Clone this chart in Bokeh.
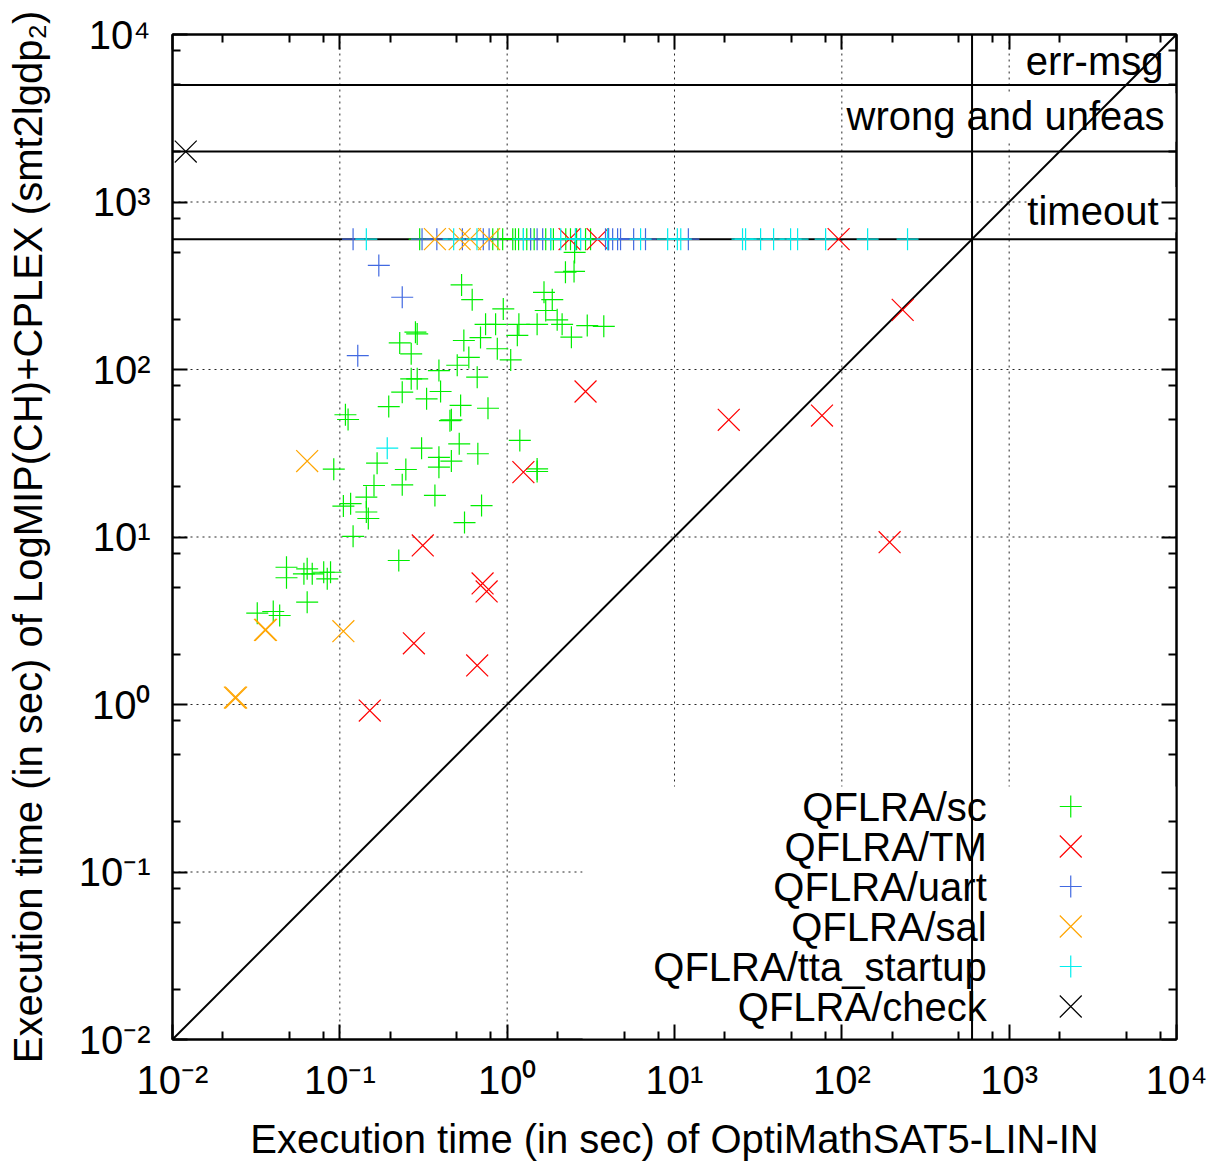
import math
from bokeh.plotting import figure
from bokeh.models import FixedTicker, LogAxis, Label, CustomJSTickFormatter
from bokeh.embed import file_html
from bokeh.resources import INLINE
from bokeh.core.properties import value

FONT = "Liberation Sans"

# ---------------- data (seconds) ----------------
TIMEOUT = 600      # "timeout" row
WRONG = 2000       # "wrong and unfeas" row
ERRMSG = 5000      # "err-msg" row

# QFLRA/sc (green +)
sc_x = [2.51, 2.23, 1.66, 1.86, 0.534, 0.618, 0.948, 1.70, 1.99, 2.13, 2.42, 3.01, 3.78,
        1.51, 1.175, 1.15, 0.853, 0.743, 0.693, 0.551, 0.873, 1.05, 0.283, 0.290, 0.228,
        0.267, 0.503, 0.590, 0.391, 0.662, 0.267, 0.290, 0.236, 0.400, 0.330, 0.196,
        0.527, 0.768, 0.108, 0.112, 0.464, 0.455, 1.19, 0.517, 0.308, 0.668, 0.391,
        0.464, 0.391, 0.092, 0.167, 0.248, 1.51, 1.51, 0.160, 0.236, 0.370, 0.144,
        0.116, 0.105, 0.144, 0.148, 0.703, 0.556, 0.120, 0.225, 0.048, 0.048, 0.0638,
        0.061, 0.0684, 0.0801, 0.0841, 0.088, 0.0638, 0.0321, 0.040, 0.0437, 2.53]
sc_y = [385, 381, 289, 261, 320, 261, 230, 225, 198, 186, 156, 183, 181,
        186, 186, 160, 186, 186, 155, 149, 133, 114, 167, 163, 144,
        124, 106, 118, 98.6, 90, 88, 88, 73.2, 73.9, 66.8, 60.1,
        61, 58.7, 53.7, 50.3, 50.1, 49.5, 37.7, 36, 33.9, 31.4, 29.9,
        28.4, 26.1, 25.4, 27.6, 25.3, 25.5, 24.6, 20.3, 20.5, 17.7, 17.3,
        15.8, 15.3, 14.1, 12.9, 15.4, 12.2, 10.1, 7.24, 6.60, 5.71, 6.46,
        6.03, 6.03, 6.16, 5.63, 6.16, 4.08, 3.51, 3.59, 3.40, 500]
sc_timeout_x = [0.30, 0.82, 0.88, 0.94, 1.08, 1.12, 1.17, 1.25, 1.31, 1.38, 1.45,
                1.70, 1.82, 1.89, 2.24, 2.39, 2.60, 2.94, 3.15]

# QFLRA/TM (red x)
tm_x = [231, 2.94, 21.1, 76.1, 193, 1.25, 0.313, 0.713, 0.754, 0.277, 0.662, 0.151]
tm_y = [227, 73.9, 50.1, 53.1, 9.31, 24.4, 8.90, 5.28, 4.73, 2.32, 1.71, 0.92]
tm_timeout_x = [2.36, 3.47, 95.7]

# QFLRA/uart (royal blue +)
uart_x = [0.171, 0.236, 0.128]
uart_y = [418, 270, 121]
uart_timeout_x = [0.12, 0.31, 0.38, 0.54, 0.72, 0.78, 1.38, 1.51, 1.63, 2.56, 3.87,
                  4.04, 4.27, 4.57, 4.76, 5.70, 6.71, 12.1]

# QFLRA/sal (orange x)
sal_x = [0.0638, 0.0357, 0.0362, 0.105, 0.0236, 0.0240]
sal_y = [28.4, 2.79, 2.79, 2.74, 1.10, 1.10]
sal_timeout_x = [0.37, 0.52, 0.60, 0.78]

# QFLRA/tta_startup (cyan +)
tta_x = [0.192]
tta_y = [33.9]
tta_timeout_x = [0.144, 0.479, 0.66, 1.25, 1.82, 2.09, 2.56, 2.75, 3.98, 6.27, 9.10,
                 10.4, 10.9, 25.5, 26.6, 32.7, 39.1, 49.4, 54.4, 80.0, 142.6, 247]

# QFLRA/check (black x)
check_x = [0.012]
check_y = [2000]

series_names = ["QFLRA/sc", "QFLRA/TM", "QFLRA/uart", "QFLRA/sal",
                "QFLRA/tta_startup", "QFLRA/check"]
series_colors = ["#00ee00", "#ff0000", "#4169e1", "#ffa500", "#00eeee", "#000000"]
series_markers = ["cross", "x", "cross", "x", "cross", "x"]
series_sizes = [22, 31, 22, 31, 22, 31]

decades = [0.01, 0.1, 1, 10, 100, 1000, 10000]
tick_labels = ["10\u207b\u00b2", "10\u207b\u00b9", "10\u2070", "10\u00b9",
               "10\u00b2", "10\u00b3", "10\u2074"]
minor_ticks = [m * d for d in decades[:-1] for m in (2, 5, 8)]

x_title = "Execution time (in sec) of OptiMathSAT5-LIN-IN"
y_title = "Execution time (in sec) of LogMIP(CH)+CPLEX (smt2lgdp\u2082)"

# ---------------- figure ----------------
p = figure(width=1215, height=1164, x_axis_type="log", y_axis_type="log",
           x_range=(1e-2, 1e4), y_range=(1e-2, 1e4),
           output_backend="svg", toolbar_location=None,
           min_border_left=172, min_border_right=39,
           min_border_top=34, min_border_bottom=125)
p.grid.visible = False
p.outline_line_color = "black"
p.outline_line_width = 2
p.background_fill_color = "white"
p.border_fill_color = "white"

label_formatter = CustomJSTickFormatter(
    args=dict(labels=tick_labels, decades=decades),
    code="""
const i = decades.findIndex(d => Math.abs(Math.log10(d) - Math.log10(tick)) < 1e-6);
return i >= 0 ? labels[i] : '';
""")
blank_formatter = CustomJSTickFormatter(code="return '';")


def style_axis(ax, labelled):
    ax.ticker = FixedTicker(ticks=decades, minor_ticks=minor_ticks)
    ax.major_tick_in = 15
    ax.major_tick_out = 0
    ax.minor_tick_in = 8
    ax.minor_tick_out = 0
    ax.axis_line_width = 2
    ax.major_tick_line_width = 2
    ax.minor_tick_line_width = 2
    ax.axis_line_color = "black"
    ax.major_tick_line_color = "black"
    ax.minor_tick_line_color = "black"
    if labelled:
        ax.formatter = label_formatter
        ax.major_label_text_font = FONT
        ax.major_label_text_font_size = "40px"
        ax.major_label_text_color = "black"
        ax.axis_label_text_font = FONT
        ax.axis_label_text_font_size = "40px"
        ax.axis_label_text_font_style = "normal"
        ax.axis_label_text_color = "black"
    else:
        ax.formatter = blank_formatter
        ax.major_label_text_font_size = "1px"
        ax.major_label_standoff = 0


xa = p.xaxis[0]
ya = p.yaxis[0]
style_axis(xa, True)
style_axis(ya, True)
xa.axis_label = x_title
ya.axis_label = y_title
xa.major_label_standoff = 18
xa.axis_label_standoff = 12
ya.major_label_standoff = 22
ya.axis_label_standoff = 26

top_axis = LogAxis()
right_axis = LogAxis()
style_axis(top_axis, False)
style_axis(right_axis, False)
p.add_layout(top_axis, "above")
p.add_layout(right_axis, "right")

# dotted grid
gv = decades[1:-1]
lo, hi = decades[0], decades[-1]
p.segment(x0=gv, y0=[lo] * len(gv), x1=gv, y1=[hi] * len(gv),
          line_color="black", line_width=1, line_dash="2 4", line_alpha=0.85)
p.segment(x0=[lo] * len(gv), y0=gv, x1=[hi] * len(gv), y1=gv,
          line_color="black", line_width=1, line_dash="2 4", line_alpha=0.85)

# opaque boxes of key and labels (hide grid like gnuplot)
p.quad(left=[10 ** 0.451, 10 ** 2.04, 10 ** 3.12],
       right=[hi, hi, hi],
       bottom=[lo, 10 ** 3.36, 10 ** 2.82],
       top=[10 ** -0.49, 10 ** 3.65, 10 ** 3.09],
       fill_color="white", line_color=None)

# reference lines
p.line(x=[lo, hi], y=[lo, hi], line_color="black", line_width=2)
for yv in (TIMEOUT, WRONG, ERRMSG):
    p.line(x=[lo, hi], y=[yv, yv], line_color="black", line_width=2)
p.line(x=[TIMEOUT, TIMEOUT], y=[lo, hi], line_color="black", line_width=2)

# data points
all_series = [
    (sc_x + sc_timeout_x, sc_y + [TIMEOUT] * len(sc_timeout_x)),
    (tm_x + tm_timeout_x, tm_y + [TIMEOUT] * len(tm_timeout_x)),
    (uart_x + uart_timeout_x, uart_y + [TIMEOUT] * len(uart_timeout_x)),
    (sal_x + sal_timeout_x, sal_y + [TIMEOUT] * len(sal_timeout_x)),
    (tta_x + tta_timeout_x, tta_y + [TIMEOUT] * len(tta_timeout_x)),
    (check_x, check_y),
]
for (xs, ys), col, mk, sz in zip(all_series, series_colors, series_markers, series_sizes):
    p.scatter(x=xs, y=ys, marker=mk, size=sz, line_color=col, line_width=1.2,
              fill_color=None)

# key (gnuplot style: right-aligned text, sample to the right)
KEY_TEXT_X = 10 ** 2.866
KEY_MARK_X = 10 ** 3.368
KEY_ROW0 = -0.609
KEY_STEP = 0.2388
key_y = [10 ** (KEY_ROW0 - KEY_STEP * i) for i in range(len(series_names))]
p.text(x=[KEY_TEXT_X] * len(series_names), y=key_y, text=series_names,
       text_align="right", text_baseline="middle",
       text_font=value(FONT), text_font_size="40px", text_color="black")
p.scatter(x=[KEY_MARK_X] * len(series_names), y=key_y, marker=series_markers,
          size=series_sizes, line_color=series_colors, line_width=1.2, fill_color=None)

# row labels
for txt, yv, dx, dy in (("err-msg", ERRMSG, -13, 24),
                        ("wrong and unfeas", WRONG, -12, 36),
                        ("timeout", TIMEOUT, -18, 28)):
    p.add_layout(Label(x=hi, y=yv, text=txt, text_align="right",
                       text_baseline="alphabetic", x_offset=dx, y_offset=dy,
                       text_font=FONT, text_font_size="40px", text_color="black"))

open("out.html", "w").write(file_html(p, INLINE))
